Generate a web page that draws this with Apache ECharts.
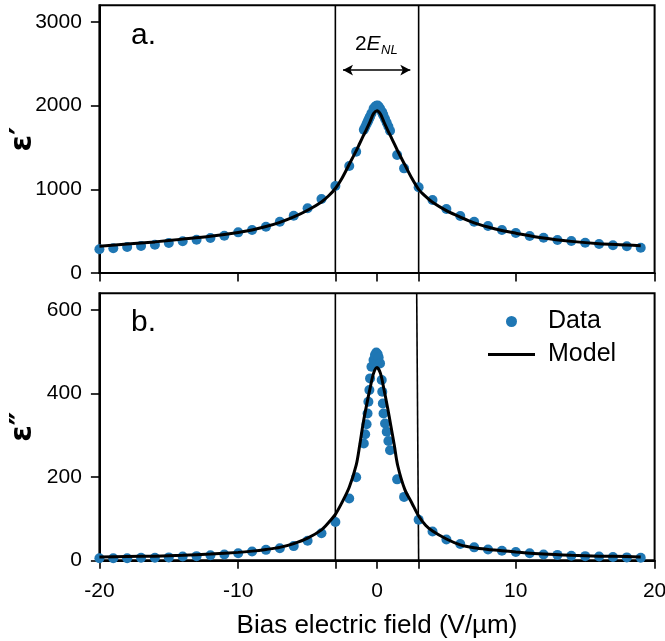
<!DOCTYPE html>
<html>
<head>
<meta charset="utf-8">
<script src="https://cdn.jsdelivr.net/npm/echarts@6/dist/echarts.min.js"></script>
<style>
html,body{margin:0;padding:0;background:#ffffff;}
#chart{width:665px;height:641px;}
</style>
</head>
<body>
<div id="chart"></div>
<script>
// ---- data ----
const fieldX = [-20,-19,-18,-17,-16,-15,-14,-13,-12,-11,-10,-9,-8,-7,-6,-5,-4,-3,
  -2,-1.5,
  -0.95,-0.85,-0.75,-0.68,-0.62,-0.55,-0.5,-0.4,-0.25,-0.15,-0.05,0.05,0.12,0.22,0.34,0.38,0.42,0.47,0.58,0.7,0.82,0.94,
  1.45,1.95,
  3,4,5,6,7,8,9,10,11,12,13,14,15,16,17,18,19];
const epsRealData = [283,295,311,323,338,358,379,398,418,446,486,514,553,613,685,773,884,1039,
  1278,1450,
  1712,1746,1780,1805,1827,1852,1870,1908,1962,1985,2000,2003,1988,1966,1930,1915,1900,1880,1840,1795,1752,1700,
  1410,1251,
  1024,872,765,681,613,562,514,478,442,422,394,382,362,346,331,319,302];
const epsImagData = [5,5,5,6,6,7,9,10,12,14,17,21,25,29,34,47,65,92,
  148,199,
  280,302,326,352,380,408,436,464,480,492,498,494,486,472,432,404,376,352,328,308,286,264,
  194,152,
  97,69,50,39,31,26,23,20,17,14,13,11,10,9,8,7,6];

const modelX = [-20,-18,-16,-14,-12,-10,-9,-8,-7,-6,-5,-4,-3.5,-3,-2.5,-2,-1.5,-1.25,-1,-0.75,-0.5,-0.25,0,
  0.25,0.5,0.75,1,1.25,1.5,2,2.5,3,3.5,4,5,6,7,8,9,10,12,14,16,18,19];
const modelReal = [320,346,372,405,440,485,515,555,605,670,750,850,920,1010,1140,1300,1460,1548,1635,1720,1810,1905,1940,
  1900,1805,1715,1630,1543,1455,1295,1135,1000,915,845,745,668,600,550,508,476,418,378,350,335,325];
const modelImag = [8,9,10,12,15,19,22,26,31,40,53,73,90,110,140,175,228,275,328,372,412,448,462,
  448,410,368,322,275,226,170,138,106,84,70,51,37,30,26,23,20,15,12,10,9,8];

const xTickVals = [-20,-10,0,10,20];
const enlVals = [-3,3];                 // +/- E_NL marker lines
const enlTopB = 2.86;                   // upper end of the right marker line in panel b
const arrowY = 2426;                    // arrow level in panel a (eps' units)
const arrowX = [-2.45, 2.4];
const yTicksA = [0,1000,2000,3000];
const yTicksB = [0,200,400,600];
const yMaxA = 3200, yMaxB = 640;

// ---- build ----
const zip = (xs, ys) => xs.map((x, i) => [x, ys[i]]);
const AX = '#000000';
const FONT = 'Liberation Sans, Arial, sans-serif';
const tickFont = {fontSize: 21, color: '#000', fontFamily: FONT, formatter: v => String(v)};

const chart = echarts.init(document.getElementById('chart'), null, {renderer: 'canvas'});

function xAxisCfg(gi, withLabels) {
  return {
    type: 'value', gridIndex: gi, min: -20, max: 20,
    axisLine: {show: true, onZero: false, lineStyle: {color: AX, width: 2}},
    axisTick: {show: true, inside: false, length: 8.5, lineStyle: {color: AX, width: 1.6},
      customValues: xTickVals.concat(enlVals)},
    axisLabel: Object.assign({show: withLabels, margin: 20, customValues: xTickVals}, tickFont),
    splitLine: {show: false},
    name: withLabels ? 'Bias electric field (V/µm)' : '',
    nameLocation: 'middle', nameGap: 53, nameMoveOverlap: false,
    nameTextStyle: {fontSize: 26, color: '#000', fontFamily: FONT}
  };
}
function yAxisCfg(gi, max, ticks, name) {
  return {
    type: 'value', gridIndex: gi, min: 0, max: max,
    axisLine: {show: true, onZero: false, lineStyle: {color: AX, width: 2}},
    axisTick: {show: true, length: 8.5, lineStyle: {color: AX, width: 1.6}, customValues: ticks},
    axisLabel: Object.assign({show: true, margin: 17.5, customValues: ticks}, tickFont),
    splitLine: {show: false},
    name: name, nameLocation: 'middle', nameGap: 61, nameRotate: 90, nameMoveOverlap: false,
    nameTextStyle: {fontSize: 30, fontWeight: 'bold', color: '#000', fontFamily: 'DejaVu Sans'}
  };
}
function vline(gi, pts) {
  return {type: 'line', xAxisIndex: gi, yAxisIndex: gi, data: pts, symbol: 'none', silent: true,
    lineStyle: {color: '#000', width: 1.6}, z: 1};
}

const option = {
  animation: false,
  backgroundColor: '#ffffff',
  grid: [
    {left: 99.4, width: 555.2, top: 5.3, height: 267.7, show: true, borderColor: '#000', borderWidth: 2,
      containLabel: false, outerBoundsMode: 'none'},
    {left: 99.4, width: 555.2, top: 293.3, height: 267, show: true, borderColor: '#000', borderWidth: 2,
      containLabel: false, outerBoundsMode: 'none'}
  ],
  xAxis: [xAxisCfg(0, false), xAxisCfg(1, true)],
  yAxis: [yAxisCfg(0, yMaxA, yTicksA, 'ε′'), yAxisCfg(1, yMaxB, yTicksB, 'ε″')],
  legend: {
    data: [{name: 'Data', icon: 'circle'}, {name: 'Model', icon: 'path://M0,0 L47,0 L47,3 L0,3 Z'}],
    orient: 'vertical', left: 488, top: 309, padding: 0, itemWidth: 47, itemHeight: 11, itemGap: 8,
    textStyle: {fontSize: 25, color: '#000', fontFamily: FONT, padding: [0, 0, 0, 8]},
    selectedMode: false
  },
  series: [
    vline(0, [[enlVals[0], 0], [enlVals[0], yMaxA]]),
    vline(0, [[enlVals[1], 0], [enlVals[1], yMaxA]]),
    vline(1, [[enlVals[0], 0], [enlVals[0], yMaxB]]),
    vline(1, [[enlVals[1], 0], [enlTopB, yMaxB]]),
    {type: 'scatter', name: 'Data', xAxisIndex: 0, yAxisIndex: 0, data: zip(fieldX, epsRealData),
      symbol: 'circle', symbolSize: 10, itemStyle: {color: '#1f77b4', opacity: 1}, z: 3},
    {type: 'line', name: 'Model', xAxisIndex: 0, yAxisIndex: 0, data: zip(modelX, modelReal),
      symbol: 'none', smooth: 0.3, lineStyle: {color: '#000', width: 3}, itemStyle: {color: '#000'}, z: 4,
      markLine: {silent: true, symbol: ['arrow', 'arrow'], symbolSize: [8, 10],
        lineStyle: {color: '#000', width: 1.5, type: 'solid'}, label: {show: false},
        data: [[{coord: [arrowX[0], arrowY]}, {coord: [arrowX[1], arrowY]}]]}},
    {type: 'scatter', name: 'Data', xAxisIndex: 1, yAxisIndex: 1, data: zip(fieldX, epsImagData),
      symbol: 'circle', symbolSize: 10, itemStyle: {color: '#1f77b4', opacity: 1}, z: 3},
    {type: 'line', name: 'Model', xAxisIndex: 1, yAxisIndex: 1, data: zip(modelX, modelImag),
      symbol: 'none', smooth: 0.3, lineStyle: {color: '#000', width: 3}, itemStyle: {color: '#000'}, z: 4}
  ]
};
chart.setOption(option);

// annotations
const pLab = chart.convertToPixel({gridIndex: 0}, [0, arrowY]);
chart.setOption({
  graphic: [
    {type: 'text', left: 131, top: 21, style: {text: 'a.', fontSize: 30, fill: '#000', fontFamily: FONT}},
    {type: 'text', left: 131, top: 308, style: {text: 'b.', fontSize: 30, fill: '#000', fontFamily: FONT}},
    {type: 'group', x: pLab[0], y: pLab[1] - 26, children: [
      {type: 'text', x: -22, y: 0, style: {text: '2', fontSize: 21, fill: '#000', fontFamily: FONT, verticalAlign: 'middle', align: 'left'}},
      {type: 'text', x: -10.5, y: 0, style: {text: 'E', fontSize: 21, fontStyle: 'italic', fill: '#000', fontFamily: FONT, verticalAlign: 'middle', align: 'left'}},
      {type: 'text', x: 4, y: 6, style: {text: 'NL', fontSize: 13, fontStyle: 'italic', fill: '#000', fontFamily: FONT, verticalAlign: 'middle', align: 'left'}}
    ]}
  ]
});
</script>
</body>
</html>
